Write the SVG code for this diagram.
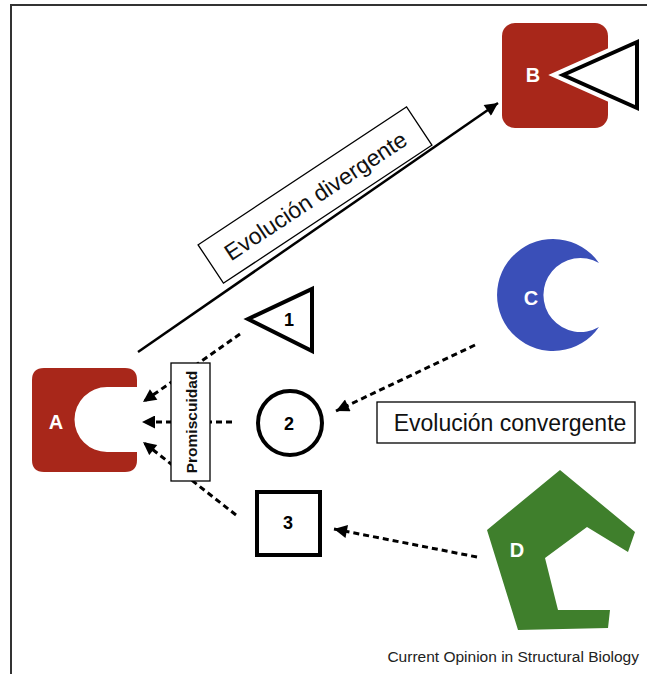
<svg xmlns="http://www.w3.org/2000/svg" width="647" height="674" viewBox="0 0 647 674">
<defs>
<style>
.lbl{font-family:"Liberation Sans",Arial,sans-serif;font-weight:bold;fill:#fff;font-size:20px;text-anchor:middle;dominant-baseline:central}
.num{font-family:"Liberation Sans",Arial,sans-serif;font-weight:bold;fill:#000;font-size:18px;text-anchor:middle;dominant-baseline:central}
.txt{font-family:"Liberation Sans",Arial,sans-serif;fill:#111;text-anchor:middle;dominant-baseline:central}
.shape{fill:#fff;stroke:#000;stroke-width:4;stroke-linejoin:miter}
.dash{fill:none;stroke:#000;stroke-width:3;stroke-dasharray:6 4}
.box{fill:#fff;stroke:#000;stroke-width:1.3}
</style>
<marker id="ah" viewBox="0 0 10 10" refX="10" refY="5" markerUnits="userSpaceOnUse" markerWidth="15" markerHeight="13" orient="auto">
<path d="M0,0 L10,5 L0,10 z" fill="#000"/>
</marker>
</defs>
<rect width="647" height="674" fill="#fff"/>
<path d="M11,674 L11,5 L647,5" fill="none" stroke="#333" stroke-width="2"/>

<g id="connectors">
<line x1="138" y1="352" x2="498" y2="103" stroke="#000" stroke-width="2.5" marker-end="url(#ah)"/>
<line class="dash" x1="240" y1="334" x2="143" y2="402" marker-end="url(#ah)"/>
<line class="dash" x1="232" y1="422" x2="142" y2="422" marker-end="url(#ah)"/>
<line class="dash" x1="236" y1="515" x2="143" y2="442" marker-end="url(#ah)"/>
<line class="dash" x1="475" y1="345" x2="336" y2="411" marker-end="url(#ah)"/>
<line class="dash" x1="477" y1="557" x2="334" y2="529" marker-end="url(#ah)"/>
</g>

<g id="nodeA">
<path d="M44,368 L125,368 Q137,368 137,380 L137,387 L107,387 A32.5,32.5 0 0,0 107,452 L137,452 L137,460 Q137,472 125,472 L44,472 Q32,472 32,460 L32,380 Q32,368 44,368 Z" fill="#a8271a"/>
<text class="lbl" x="56" y="422">A</text>
</g>

<g id="nodeB">
<rect x="502" y="23" width="106" height="105" rx="13" fill="#a8271a"/>
<path d="M563,75 L637,42 L637,108 Z" fill="#fff" stroke="#fff" stroke-width="12" stroke-linejoin="miter"/>
<path class="shape" d="M563,75 L637,42 L637,108 Z"/>
<text class="lbl" x="533" y="75">B</text>
</g>

<g id="nodeC">
<path d="M599,263 A56,56 0 1,0 599,327 A37,37 0 1,1 599,263 Z" fill="#3a4fb8"/>
<text class="lbl" x="531" y="298">C</text>
</g>

<g id="nodeD">
<path d="M560,470 L635,532 L628,552 L587,527 L545,558 L558,610 L610,610 L608,628 L518,630 L487,530 Z" fill="#3f7f2c"/>
<text class="lbl" x="517" y="550">D</text>
</g>

<g id="node1">
<path class="shape" d="M248,319 L312,289 L312,351 Z"/>
<text class="num" x="289" y="320">1</text>
</g>

<g id="node2">
<circle class="shape" cx="290" cy="423" r="32"/>
<text class="num" x="289" y="424">2</text>
</g>

<g id="node3">
<rect class="shape" x="257" y="492" width="63" height="63"/>
<text class="num" x="288" y="523">3</text>
</g>

<g id="labelPromiscuidad">
<rect class="box" x="171" y="363" width="39" height="118"/>
<text class="txt" x="0" y="0" font-size="15.5" font-weight="bold" fill="#000" transform="translate(191,422) rotate(-90)">Promiscuidad</text>
</g>

<g id="labelDivergente">
<g transform="translate(315,195) rotate(-33.5)">
<rect class="box" x="-125" y="-23" width="250" height="46"/>
<text class="txt" x="0" y="1" font-size="23">Evolución divergente</text>
</g>
</g>

<g id="labelConvergente">
<rect class="box" x="377" y="402" width="258" height="41"/>
<text class="txt" x="510" y="423" font-size="23">Evolución convergente</text>
</g>

<text x="639" y="662" font-family="'Liberation Sans',Arial,sans-serif" font-size="15.5" fill="#222" text-anchor="end">Current Opinion in Structural Biology</text>
</svg>
